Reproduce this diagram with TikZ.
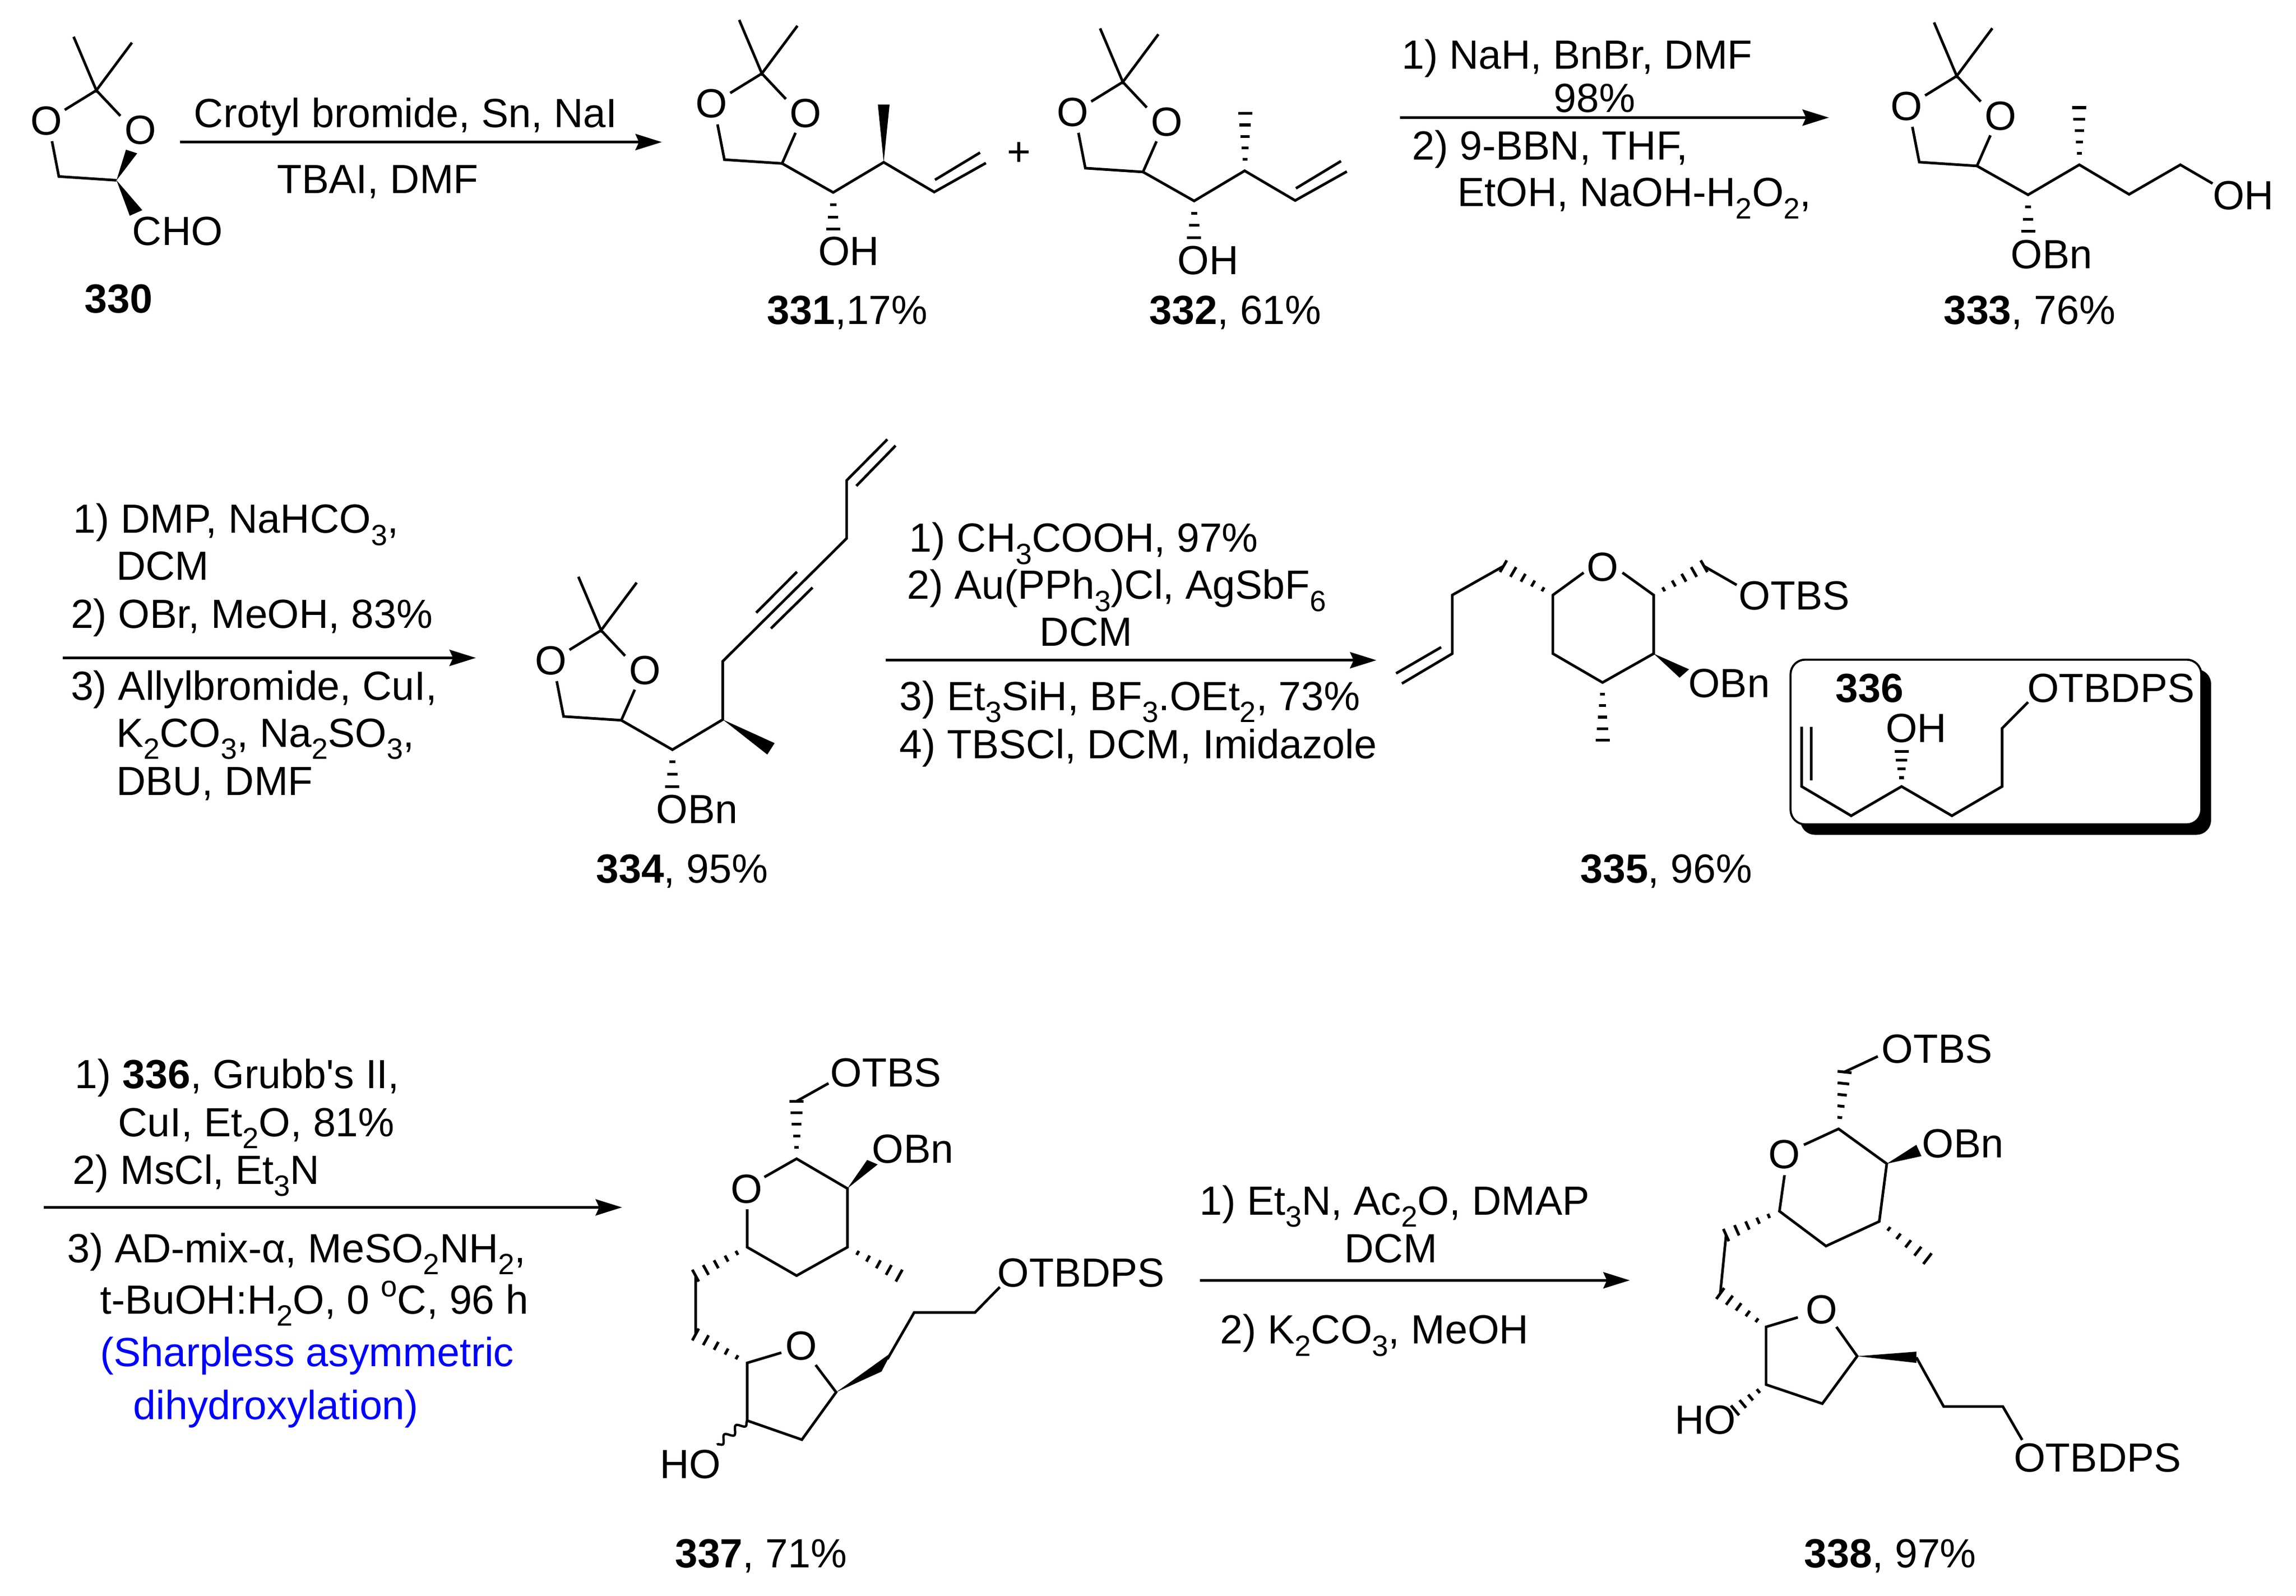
\documentclass[tikz,border=0pt]{standalone}
\usepackage{fontspec}
\setmainfont{Liberation Sans}
\newfontfamily\plainf{Liberation Sans}
\usetikzlibrary{arrows.meta,decorations.pathmorphing}
\newcommand{\lowx}[1]{\raisebox{-0.3em}{\fontsize{10}{10}\selectfont #1}}
\newcommand{\upx}[1]{\raisebox{0.42em}{\fontsize{10}{10}\selectfont #1}}
% hashed bond: x1 y1 x2 y2 halfwidth count
\newcommand{\hashb}[6]{%
  \foreach \i in {1,...,#6}{%
    \pgfmathsetmacro{\tt}{\i/#6}%
    \pgfmathsetmacro{\ddx}{#3-#1}%
    \pgfmathsetmacro{\ddy}{#4-#2}%
    \pgfmathsetmacro{\LL}{veclen(\ddx,\ddy)}%
    \pgfmathsetmacro{\nnx}{-\ddy/\LL}%
    \pgfmathsetmacro{\nny}{\ddx/\LL}%
    \pgfmathsetmacro{\hw}{0.8+#5*\tt}%
    \pgfmathsetmacro{\cx}{#1+\ddx*\tt}%
    \pgfmathsetmacro{\cy}{#2+\ddy*\tt}%
    \draw[hashline] (\cx+\nnx*\hw,\cy+\nny*\hw) -- (\cx-\nnx*\hw,\cy-\nny*\hw);
  }}
% acetonide ring hung on its CH carbon
\newcommand{\acet}[3]{%
  \begin{scope}[shift={(#2,#3)}]
    \draw[bond] (-29.3,-98) -- (-13.8,-61.4) -- (10.5,-94);
    \draw[bond] (-35.4,-48.1) -- (-13.8,-61.4) -- (2.6,-44);
    \draw[bond] (-44.1,-26.7) -- (-39.4,-2.6) -- (0,0);
    \node[atom] (#1OL) at (-48.1,-40.7) {O};
    \node[atom] (#1OR) at (16.2,-34.1) {O};
  \end{scope}}
\tikzset{
  bond/.style={line width=0.9pt,line join=miter,line cap=butt},
  hashline/.style={line width=0.95pt},
  wedgefill/.style={fill=black,draw=none},
  atom/.style={inner sep=0pt,font=\fontsize{13.9}{16}\selectfont},
  txt/.style={inner sep=0pt,font=\fontsize{13.9}{16}\selectfont},
  rxn/.style={line width=1pt,-{Stealth[length=9pt,width=5.5pt,inset=1.2pt]}},
}
\begin{document}
\begin{tikzpicture}[x=0.5pt,y=-0.5pt]
\useasboundingbox[fill=white] (0,0) rectangle (1568,1089.4);

% ---------- 330
\acet{a}{79.6}{123.1}
\fill[wedgefill] (79.6,123.1) -- (86,102.2) -- (93.7,104.7) -- cycle;
\fill[wedgefill] (79.6,123.1) -- (88.6,147.3) -- (97.2,143.5) -- cycle;
\node[txt,anchor=base west] (cho) at (90,167.5) {CHO};
\node[txt,anchor=base] (l330) at (81,213.5) {\textbf{330}};

% arrow 1
\coordinate (r1a) at (123,97); \coordinate (r1b) at (452,97);
\draw[rxn] (r1a) -- (r1b);
\node[txt,anchor=base] (t1a) at (277,87) {Crotyl bromide, Sn, NaI};
\node[txt,anchor=base] (t1b) at (258,132) {TBAI, DMF};

% ---------- 331
\acet{b}{534.1}{111.6}
\draw[bond] (543.3,90.7) -- (534.1,111.6);
\draw[bond] (534.1,111.6) -- (569,131.4) -- (603.5,110.8) -- (638,131.1) -- (673.3,111.3);
\draw[bond] (638.5,122.8) -- (669.3,104.2);
\fill[wedgefill] (603.5,110.8) -- (599.5,71.4) -- (607.5,71.4) -- cycle;
\hashb{569}{131.4}{569}{156.5}{4}{3}
\node[txt,anchor=base] (oh331) at (579.7,181) {OH};
\node[txt,anchor=base] (l331) at (578.7,221.5) {\textbf{331},17\%};
\node[txt,anchor=base] (plus) at (696,113) {+};

% ---------- 332
\acet{c}{780.6}{117.4}
\draw[bond] (789.8,96.5) -- (780.6,117.4);
\draw[bond] (780.6,117.4) -- (815.5,137.2) -- (850,116.6) -- (884.5,136.9) -- (919.8,117.1);
\draw[bond] (885,128.6) -- (915.8,110);
\hashb{850.3}{116.6}{850.3}{77.5}{4}{5}
\hashb{815.5}{137.2}{815.5}{162.3}{4}{3}
\node[txt,anchor=base] (oh332) at (825,187.3) {OH};
\node[txt,anchor=base] (l332) at (843.7,221.5) {\textbf{332}, 61\%};

% arrow 2
\coordinate (r2a) at (956,80.3); \coordinate (r2b) at (1249,80.3);
\draw[rxn] (r2a) -- (r2b);
\node[txt,anchor=base west] (t2a) at (957,47) {1) NaH, BnBr, DMF};
\node[txt,anchor=base] (t2b) at (1089,76.5) {98\%};
\node[txt,anchor=base west] (t2c) at (964,109) {2) 9-BBN, THF,};
\node[txt,anchor=base west] (t2d) at (995,141) {EtOH, NaOH-H\lowx{2}O\lowx{2},};

% ---------- 333
\acet{d}{1350.1}{113.3}
\draw[bond] (1359.3,92.4) -- (1350.1,113.3);
\draw[bond] (1350.1,113.3) -- (1385,133) -- (1420,112.5) -- (1454,132.7) -- (1489,112.5) -- (1511,125.3);
\hashb{1420}{112.5}{1420}{73.5}{4}{5}
\hashb{1385}{133}{1385}{158}{4}{3}
\node[txt,anchor=base] (oh333) at (1532,143.1) {OH};
\node[txt,anchor=base] (obn333) at (1401,183.5) {OBn};
\node[txt,anchor=base] (l333) at (1386,221.5) {\textbf{333}, 76\%};

% arrow 3
\coordinate (r3a) at (43,449.2); \coordinate (r3b) at (325,449.2);
\draw[rxn] (r3a) -- (r3b);
\node[txt,anchor=base west] (t3a) at (49.6,364) {1) DMP, NaHCO\lowx{3},};
\node[txt,anchor=base west] (t3b) at (79,396) {DCM};
\node[txt,anchor=base west] (t3c) at (48,429) {2) OBr, MeOH, 83\%};
\node[txt,anchor=base west] (t3d) at (48,478) {3) Allylbromide, CuI,};
\node[txt,anchor=base west] (t3e) at (79,510) {K\lowx{2}CO\lowx{3}, Na\lowx{2}SO\lowx{3},};
\node[txt,anchor=base west] (t3f) at (79,543) {DBU, DMF};

% ---------- 334
\acet{e}{424.3}{491.8}
\draw[bond] (433.5,470.9) -- (424.3,491.8);
\draw[bond] (424.3,491.8) -- (459.2,511.9) -- (493.6,491.3) -- (493.6,451.5) -- (578.2,367.6) -- (578.2,328) -- (606,300);
\draw[bond] (516.4,418.4) -- (544.3,390.4);
\draw[bond] (526.5,429.1) -- (554.9,401.2);
\draw[bond] (584.8,331.8) -- (611.6,304.3);
\fill[wedgefill] (493.6,491.3) -- (529,507.4) -- (524,515.2) -- cycle;
\hashb{459.2}{511.9}{459.2}{537}{4}{3}
\node[txt,anchor=base] (obn334) at (476,562.3) {OBn};
\node[txt,anchor=base] (l334) at (465.8,602.7) {\textbf{334}, 95\%};

% arrow 4
\coordinate (r4a) at (605,450.8); \coordinate (r4b) at (940,450.8);
\draw[rxn] (r4a) -- (r4b);
\node[txt,anchor=base west] (t4a) at (620.7,377) {1) CH\lowx{3}COOH, 97\%};
\node[txt,anchor=base west] (t4b) at (619,409) {2) Au(PPh\lowx{3})Cl, AgSbF\lowx{6}};
\node[txt,anchor=base] (t4c) at (741.7,441) {DCM};
\node[txt,anchor=base west] (t4d) at (614,485) {3) Et\lowx{3}SiH, BF\lowx{3}.OEt\lowx{2}, 73\%};
\node[txt,anchor=base west] (t4e) at (614,518) {4) TBSCl, DCM, Imidazole};

% ---------- 335
\draw[bond] (1081.5,391) -- (1060.5,406.3) -- (1060.5,446.3) -- (1094.4,466) -- (1129.3,446.3) -- (1129.3,406.3) -- (1108,391);
\node[atom] (o335) at (1094.4,387.3) {O};
\hashb{1129.3}{406.3}{1163.7}{386.6}{3.8}{5}
\draw[bond] (1163.7,386.6) -- (1186,399.4);
\node[txt,anchor=base] (otbs335) at (1225.3,416.4) {OTBS};
\hashb{1060.5}{406.3}{1026.7}{386.6}{3.8}{5}
\draw[bond] (1026.7,386.6) -- (991.8,406.3) -- (991.8,446.3) -- (957.4,466.7);
\draw[bond] (984.2,441.9) -- (953.4,459.8);
\fill[wedgefill] (1129.3,446.3) -- (1153.5,457) -- (1147,462.7) -- cycle;
\node[txt,anchor=base] (obn335) at (1180.8,476.2) {OBn};
\hashb{1094.4}{466}{1094.4}{505.4}{4}{5}
\node[txt,anchor=base] (l335) at (1137.9,602.7) {\textbf{335}, 96\%};

% ---------- 336 box
\fill[black,rounded corners=5pt] (1229.5,457) rectangle (1510,570);
\draw[line width=0.7pt,fill=white,rounded corners=5pt] (1222.8,450.4) rectangle (1503.3,562.9);
\node[txt,anchor=base] (l336) at (1276.9,479.5) {\textbf{336}};
\node[txt,anchor=base] (otbdps336) at (1441.6,479.5) {OTBDPS};
\node[txt,anchor=base] (oh336) at (1308.7,507) {OH};
\draw[bond] (1230.4,496.2) -- (1230.4,537) -- (1264.2,557) -- (1298.6,537) -- (1333,557) -- (1367.3,537) -- (1367.3,497.3) -- (1385,479.4);
\draw[bond] (1237,496.2) -- (1237,533);
\hashb{1298.6}{537}{1298.6}{513}{4}{4}

% arrow 5
\coordinate (r5a) at (30,824.4); \coordinate (r5b) at (424.8,824.4);
\draw[rxn] (r5a) -- (r5b);
\node[txt,anchor=base west] (t5a) at (50.8,743) {1) \textbf{336}, Grubb{\plainf '}s II,};
\node[txt,anchor=base west] (t5b) at (80.3,776) {CuI, Et\lowx{2}O, 81\%};
\node[txt,anchor=base west] (t5c) at (49.3,808.5) {2) MsCl, Et\lowx{3}N};
\node[txt,anchor=base west] (t5d) at (45.6,862) {3) AD-mix-α, MeSO\lowx{2}NH\lowx{2},};
\node[txt,anchor=base west] (t5e) at (68,897) {t-BuOH:H\lowx{2}O, 0 \upx{o}C, 96 h};
\node[txt,anchor=base west,text=blue] (t5f) at (68,933) {(Sharpless asymmetric};
\node[txt,anchor=base west,text=blue] (t5g) at (90.7,969) {dihydroxylation)};

% ---------- 337
\draw[bond] (522,803.7) -- (544,791.2) -- (578.7,811.5) -- (578.7,851.6) -- (544,871) -- (510.3,851.6) -- (510.3,825.7);
\node[atom] (o337a) at (509.8,812) {O};
\hashb{544}{791.2}{544}{752}{4}{5}
\draw[bond] (544,751.9) -- (565.8,739.7);
\node[txt,anchor=base] (otbs337) at (605,741.9) {OTBS};
\fill[wedgefill] (578.7,811.5) -- (592.2,792) -- (599.4,795.1) -- cycle;
\node[txt,anchor=base] (obn337) at (623.3,794.3) {OBn};
\hashb{578.7}{851.6}{614}{871}{3.8}{5}
\hashb{510.3}{851.6}{475}{871}{3.8}{5}
\draw[bond] (475,871) -- (475,911.2);
\hashb{510.3}{930.6}{475}{911.2}{3.8}{5}
\draw[bond] (533.6,923.6) -- (510.3,930.6) -- (510.3,970) -- (547.6,983) -- (571,950.6) -- (557,932);
\node[atom] (o337b) at (547.1,919) {O};
\fill[wedgefill] (571,950.6) -- (608.8,923.5) -- (602,936.5) -- cycle;
\draw[bond] (606,928) -- (624.3,896.2) -- (665.8,896.2) -- (682.8,878.8);
\node[txt,anchor=base] (otbdps337) at (738.3,878.7) {OTBDPS};
\draw[line width=0.8pt,decorate,decoration={snake,amplitude=1.2pt,segment length=5pt}] (510.3,970) -- (489.6,986.4);
\node[txt,anchor=base] (ho337) at (471.5,1009.5) {HO};
\node[txt,anchor=base] (l337) at (519.7,1070.5) {\textbf{337}, 71\%};

% arrow 6
\coordinate (r6a) at (819.5,874.2); \coordinate (r6b) at (1113,874.2);
\draw[rxn] (r6a) -- (r6b);
\node[txt,anchor=base] (t6a) at (952.4,829.5) {1) Et\lowx{3}N, Ac\lowx{2}O, DMAP};
\node[txt,anchor=base] (t6b) at (949.9,862) {DCM};
\node[txt,anchor=base] (t6c) at (938.7,917.5) {2) K\lowx{2}CO\lowx{3}, MeOH};

% ---------- 338
\draw[bond] (1231.9,781.7) -- (1255.6,770.8) -- (1288.5,794.6) -- (1283.4,834) -- (1247,850.8) -- (1215.2,827) -- (1218.7,802.4);
\node[atom] (o338a) at (1218.7,788.1) {O};
\hashb{1255.6}{770.8}{1259.7}{732}{4}{5}
\draw[bond] (1259.7,731.9) -- (1282.4,721.3);
\node[txt,anchor=base] (otbs338) at (1322.9,725.9) {OTBS};
\fill[wedgefill] (1288.5,794.6) -- (1308.7,781.7) -- (1312.2,789.4) -- cycle;
\node[txt,anchor=base] (obn338) at (1340.5,790.5) {OBn};
\hashb{1283.4}{834}{1316.3}{859.4}{3.8}{5}
\hashb{1215.2}{827}{1178.8}{843.3}{3.8}{5}
\draw[bond] (1178.8,843.3) -- (1174.8,883.2);
\hashb{1206.1}{906}{1174.8}{883.2}{3.8}{5}
\draw[bond] (1227.8,899.5) -- (1206.1,906) -- (1206.1,945.4) -- (1244.5,958.4) -- (1268.3,926) -- (1254.1,906);
\node[atom] (o338b) at (1244,894.4) {O};
\fill[wedgefill] (1268.3,926) -- (1308.7,922.9) -- (1308.7,930.6) -- cycle;
\draw[bond] (1308.7,926.8) -- (1327.4,960.4) -- (1367.8,960.4) -- (1381,983.2);
\node[txt,anchor=base] (otbdps338) at (1432.5,1004.9) {OTBDPS};
\hashb{1206.1}{945.4}{1184.9}{963}{3.5}{4}
\node[txt,anchor=base] (ho338) at (1164.7,979) {HO};
\node[txt,anchor=base] (l338) at (1291,1070.5) {\textbf{338}, 97\%};
\end{tikzpicture}
\end{document}
